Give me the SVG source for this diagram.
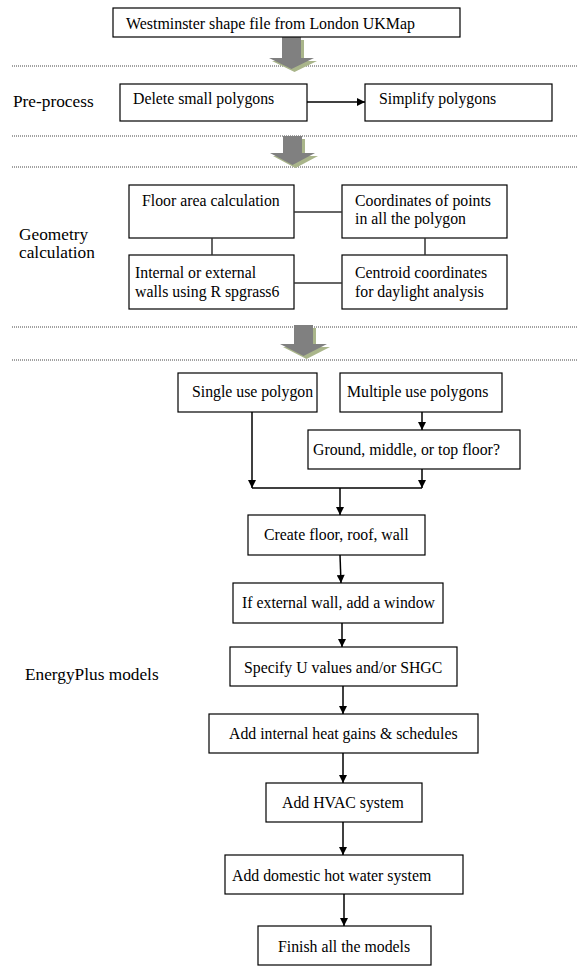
<svg xmlns="http://www.w3.org/2000/svg" width="577" height="967" viewBox="0 0 577 967">
<style>
.box{fill:#fff;stroke:#000;stroke-width:1.2}
.t{font-family:"Liberation Serif","Times New Roman",serif;font-size:15.8px;fill:#000}
.lbl{font-family:"Liberation Serif","Times New Roman",serif;font-size:17.3px;fill:#000}
.dot{stroke:#444;stroke-width:1;stroke-dasharray:1,1;fill:none}
.con{stroke:#000;stroke-width:1.5;fill:none}
.link{stroke:#333;stroke-width:1.5;fill:none}
.bigarrow{fill:#808080}
.shadow{fill:#a9b58a}
</style>
<defs>
<marker id="ah" viewBox="0 0 10 10" refX="10" refY="5" markerWidth="9" markerHeight="8" markerUnits="userSpaceOnUse" orient="auto">
<path d="M0,0 L10,5 L0,10 z" fill="#000"/>
</marker>
</defs>
<rect width="577" height="967" fill="#fff"/>

<g id="separators">
<line class="dot" x1="12" y1="66" x2="577" y2="66"/>
<line class="dot" x1="12" y1="136" x2="577" y2="136"/>
<line class="dot" x1="12" y1="167" x2="577" y2="167"/>
<line class="dot" x1="12" y1="327" x2="577" y2="327"/>
<line class="dot" x1="12" y1="360" x2="577" y2="360"/>
</g>

<g id="stage-arrows">
<polygon class="shadow" points="285,40 304,40 304,61 317,61 294.5,72 272,61 285,61"/>
<polygon class="bigarrow" points="282,37 301,37 301,58 314,58 291.5,69 269,58 282,58"/>
<polygon class="shadow" points="286,139 305,139 305,156 318,156 295.5,168 273,156 286,156"/>
<polygon class="bigarrow" points="283,136 302,136 302,153 315,153 292.5,165 270,153 283,153"/>
<polygon class="shadow" points="297,328 316,328 316,347 330,347 306.5,359 283,347 297,347"/>
<polygon class="bigarrow" points="294,325 313,325 313,344 327,344 303.5,356 280,344 294,344"/>
</g>

<g id="labels">
<text class="lbl" x="13" y="107">Pre-process</text>
<text class="lbl" x="19" y="240">Geometry</text>
<text class="lbl" x="19" y="258">calculation</text>
<text class="lbl" x="25" y="680">EnergyPlus models</text>
</g>

<g id="n-source"><rect class="box" x="113" y="8" width="347" height="29"/><text class="t" x="126" y="29" textLength="289" lengthAdjust="spacingAndGlyphs">Westminster shape file from London UKMap</text></g>

<g id="n-delete"><rect class="box" x="120" y="84" width="187" height="37"/><text class="t" x="133" y="104">Delete small polygons</text></g>
<g id="n-simplify"><rect class="box" x="365" y="84" width="187" height="37"/><text class="t" x="379" y="104">Simplify polygons</text></g>

<g id="n-floor"><rect class="box" x="129" y="185" width="165" height="53"/><text class="t" x="142" y="206">Floor area calculation</text></g>
<g id="n-coords"><rect class="box" x="342" y="185" width="165" height="53"/><text class="t" x="355" y="206">Coordinates of points</text><text class="t" x="355" y="224">in all the polygon</text></g>
<g id="n-walls"><rect class="box" x="129" y="255" width="165" height="54"/><text class="t" x="135" y="278">Internal or external</text><text class="t" x="135" y="297">walls using R spgrass6</text></g>
<g id="n-centroid"><rect class="box" x="342" y="255" width="165" height="54"/><text class="t" x="355" y="278">Centroid coordinates</text><text class="t" x="355" y="297">for daylight analysis</text></g>

<g id="n-single"><rect class="box" x="178" y="373" width="139" height="39"/><text class="t" x="192" y="397">Single use polygon</text></g>
<g id="n-multiple"><rect class="box" x="340" y="373" width="162" height="39"/><text class="t" x="347" y="397">Multiple use polygons</text></g>
<g id="n-floorlevel"><rect class="box" x="308" y="430" width="212" height="39"/><text class="t" x="313" y="455">Ground, middle, or top floor?</text></g>
<g id="n-create"><rect class="box" x="248" y="515" width="177" height="40"/><text class="t" x="264" y="540">Create floor, roof, wall</text></g>
<g id="n-window"><rect class="box" x="233" y="583" width="210" height="40"/><text class="t" x="242" y="608">If external wall, add a window</text></g>
<g id="n-uvalues"><rect class="box" x="230" y="647" width="227" height="39"/><text class="t" x="244" y="673">Specify U values and/or SHGC</text></g>
<g id="n-gains"><rect class="box" x="209" y="714" width="269" height="39"/><text class="t" x="229" y="739">Add internal heat gains &amp; schedules</text></g>
<g id="n-hvac"><rect class="box" x="266" y="783" width="156" height="39"/><text class="t" x="282" y="808">Add HVAC system</text></g>
<g id="n-dhw"><rect class="box" x="225" y="855" width="238" height="39"/><text class="t" x="232" y="881">Add domestic hot water system</text></g>
<g id="n-finish"><rect class="box" x="258" y="926" width="173" height="39"/><text class="t" x="278" y="952">Finish all the models</text></g>

<g id="connectors">
<line class="con" x1="307" y1="102" x2="365" y2="102" marker-end="url(#ah)"/>
<line class="link" x1="294" y1="212" x2="342" y2="212"/>
<line class="link" x1="212" y1="238" x2="212" y2="255"/>
<line class="link" x1="425" y1="238" x2="425" y2="255"/>
<line class="link" x1="294" y1="283" x2="342" y2="283"/>
<line class="con" x1="422" y1="412" x2="422" y2="430" marker-end="url(#ah)"/>
<line class="con" x1="252" y1="412" x2="252" y2="488" marker-end="url(#ah)"/>
<line class="con" x1="422" y1="469" x2="422" y2="488" marker-end="url(#ah)"/>
<line class="con" x1="252" y1="488" x2="422" y2="488"/>
<line class="con" x1="340" y1="488" x2="340" y2="515" marker-end="url(#ah)"/>
<line class="con" x1="340" y1="555" x2="341" y2="583" marker-end="url(#ah)"/>
<line class="con" x1="342" y1="623" x2="342" y2="647" marker-end="url(#ah)"/>
<line class="con" x1="343" y1="686" x2="343" y2="714" marker-end="url(#ah)"/>
<line class="con" x1="343" y1="753" x2="343" y2="783" marker-end="url(#ah)"/>
<line class="con" x1="343" y1="822" x2="343" y2="855" marker-end="url(#ah)"/>
<line class="con" x1="344" y1="894" x2="344" y2="926" marker-end="url(#ah)"/>
</g>
</svg>
